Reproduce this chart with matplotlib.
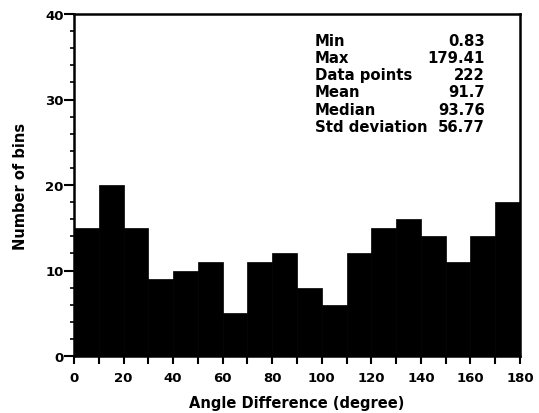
import matplotlib
matplotlib.use("Agg")
import matplotlib.pyplot as plt
import numpy as np
from matplotlib.ticker import MultipleLocator

bin_edges = list(range(0, 190, 10))
counts = [15, 20, 15, 9, 10, 11, 5, 11, 12, 8, 6, 12, 15, 16, 14, 11, 14, 18]
stat_names = ["Min", "Max", "Data points", "Mean", "Median", "Std deviation"]
stat_values = ["0.83", "179.41", "222", "91.7", "93.76", "56.77"]

plt.rcParams['font.family'] = ['DejaVu Sans']
plt.rcParams['font.weight'] = 'bold'

fig = plt.figure(figsize=(5.39, 4.14), dpi=100)
ax = fig.add_axes([74/539, 1 - 357/414, (520 - 74)/539, (357 - 15)/414])

ax.bar(bin_edges[:-1], counts, width=10, align='edge', color='black', edgecolor='black', linewidth=0.5)

ax.set_xlim(0, 180)
ax.set_ylim(0, 40)
ax.xaxis.set_major_locator(MultipleLocator(20))
ax.xaxis.set_minor_locator(MultipleLocator(10))
ax.yaxis.set_major_locator(MultipleLocator(10))
ax.yaxis.set_minor_locator(MultipleLocator(2))
ax.tick_params(axis='x', which='both', length=6, width=1.5, direction='out', labelsize=9.5, pad=5)
ax.tick_params(axis='y', which='major', length=7, width=1.5, direction='out', labelsize=9.5, pad=0.5)
ax.tick_params(axis='y', which='minor', length=3, width=1.2, direction='out')
for lab in ax.get_xticklabels() + ax.get_yticklabels():
    lab.set_fontweight('bold')

for s in ax.spines.values():
    s.set_linewidth(1.8)

ax.set_xlabel("Angle Difference (degree)", fontsize=10.5, fontweight='bold', labelpad=8)
ax.set_ylabel("Number of bins", fontsize=10.5, fontweight='bold', labelpad=12)

for i, (n, v) in enumerate(zip(stat_names, stat_values)):
    y = 41 + i * 17.3
    fig.text(315/539, 1 - y/414, n, fontsize=10.7, fontweight='bold', ha='left', va='center')
    fig.text(485/539, 1 - y/414, v, fontsize=10.7, fontweight='bold', ha='right', va='center')

fig.savefig("out.png", dpi=100)
